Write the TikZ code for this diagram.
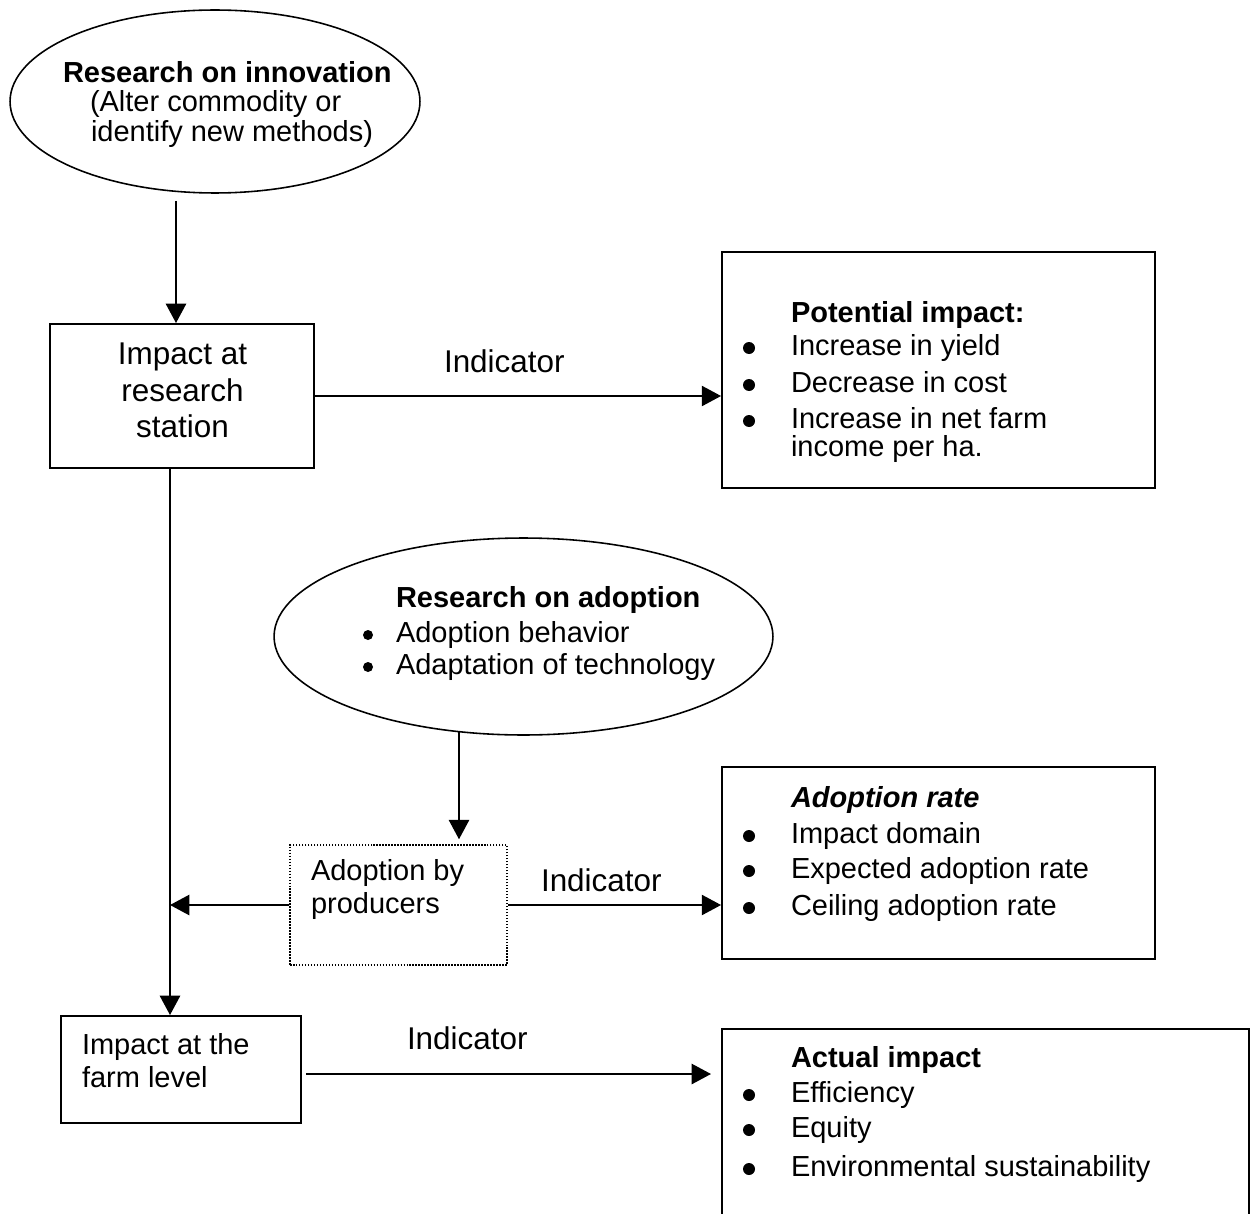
\documentclass[tikz,border=0pt]{standalone}
\usepackage{fontspec}
\setmainfont{Liberation Sans}
\usetikzlibrary{arrows.meta,shapes.geometric,calc}
\newcommand\smallfs{\fontsize{16.5pt}{19pt}\selectfont}
\newcommand\bigfs{\fontsize{17.9pt}{21pt}\selectfont}
\begin{document}
\begin{tikzpicture}[x=0.02cm,y=-0.02cm,
  lbl/.style={inner sep=0pt,outer sep=0pt,anchor=base west,font=\smallfs},
  lblbig/.style={inner sep=0pt,outer sep=0pt,anchor=base west,font=\bigfs},
  bul/.style={circle,fill=black,inner sep=0pt,outer sep=0pt,minimum size=0.24cm},
  bulsm/.style={circle,fill=black,inner sep=0pt,outer sep=0pt,minimum size=0.2cm},
  boxshape/.style={draw,rectangle,line width=1.1pt,inner sep=0pt},
  ellshape/.style={draw,ellipse,line width=0.9pt,inner sep=0pt},
  dotshape/.style={draw,rectangle,line width=0.85pt,dash pattern=on 0.85pt off 0.85pt,inner sep=0pt},
  arr/.style={-{Triangle[length=11pt,width=11.5pt]},line width=1.1pt}]
\useasboundingbox (0,0) rectangle (1250,1213);
\clip (0,0) rectangle (1250,1213);

% shapes
\node[ellshape,minimum width=8.2cm,minimum height=3.66cm] (ell1) at (215,101.5) {};
\node[boxshape,minimum width=5.28cm,minimum height=2.88cm] (box1) at (182,396) {};
\node[boxshape,minimum width=8.66cm,minimum height=4.72cm] (pot) at (938.5,370) {};
\node[ellshape,minimum width=9.98cm,minimum height=3.94cm] (ell2) at (523.5,636.5) {};
\node[dotshape,minimum width=4.34cm,minimum height=2.4cm] (dot) at (398.5,905) {};
\node[boxshape,minimum width=8.66cm,minimum height=3.84cm] (adr) at (938.5,863) {};
\node[boxshape,minimum width=4.8cm,minimum height=2.14cm] (farm) at (181,1069.5) {};
\node[boxshape,minimum width=10.54cm,minimum height=4.44cm] (act) at (985.5,1140) {};

% texts: top ellipse
\node[lbl] (t1a) at (63,83) {\bfseries Research on innovation};
\node[lbl] (t1b) at (90,112) {(Alter commodity or};
\node[lbl] (t1c) at (91,142) {identify new methods)};

% box1
\node[lblbig,anchor=base] (t2a) at (182.5,364) {Impact at};
\node[lblbig,anchor=base] (t2b) at (182.5,401) {research};
\node[lblbig,anchor=base] (t2c) at (182.5,437) {station};

% indicators
\node[lblbig] (ind1) at (444,372) {Indicator};
\node[lblbig] (ind2) at (541,891) {Indicator};
\node[lblbig] (ind3) at (407,1049) {Indicator};

% potential impact
\node[lbl] (p0) at (791,322) {\bfseries Potential impact:};
\node[bul] (pb1) at (749,348) {};
\node[lbl] (p1) at (791,355) {Increase in yield};
\node[bul] (pb2) at (749,385) {};
\node[lbl] (p2) at (791,392) {Decrease in cost};
\node[bul] (pb3) at (749,421) {};
\node[lbl] (p3) at (791,428) {Increase in net farm};
\node[lbl] (p4) at (791,456) {income per ha.};

% research on adoption
\node[lbl] (r0) at (396,607) {\bfseries Research on adoption};
\node[bulsm] (rb1) at (368,635) {};
\node[lbl] (r1) at (396,642) {Adoption behavior};
\node[bulsm] (rb2) at (368,667) {};
\node[lbl] (r2) at (396,674) {Adaptation of technology};

% adoption by producers
\node[lbl] (d1) at (311,880) {Adoption by};
\node[lbl] (d2) at (311,913) {producers};

% adoption rate
\node[lbl] (a0) at (791,807) {\bfseries\itshape Adoption rate};
\node[bul] (ab1) at (749,836) {};
\node[lbl] (a1) at (791,843) {Impact domain};
\node[bul] (ab2) at (749,871) {};
\node[lbl] (a2) at (791,878) {Expected adoption rate};
\node[bul] (ab3) at (749,908) {};
\node[lbl] (a3) at (791,915) {Ceiling adoption rate};

% farm
\node[lbl] (f1t) at (82,1054) {Impact at the};
\node[lbl] (f2t) at (82,1087) {farm level};

% actual impact
\node[lbl] (c0) at (791,1067) {\bfseries Actual impact};
\node[bul] (cb1) at (749,1095) {};
\node[lbl] (c1) at (791,1102) {Efficiency};
\node[bul] (cb2) at (749,1130) {};
\node[lbl] (c2) at (791,1137) {Equity};
\node[bul] (cb3) at (749,1169) {};
\node[lbl] (c3) at (791,1176) {Environmental sustainability};

% connectors
\coordinate (a1s) at (176,201);
\draw[arr] (a1s) -- (a1s |- box1.north);
\draw[arr] (box1.east) -- (box1.east -| pot.west);
\coordinate (v1) at ($(box1.south)+(-12,0)$);
\draw[arr] (v1) -- (v1 |- farm.north);
\draw[arr] (dot.west) -- (dot.west -| v1);
\coordinate (a2s) at (459,732);
\draw[arr] (a2s) -- ($(a2s |- dot.north)+(0,-5)$);
\draw[arr] (dot.east) -- (dot.east -| adr.west);
\coordinate (fs) at (306,1074);
\coordinate (fe) at (711,1074);
\draw[arr] (fs) -- (fe);
\end{tikzpicture}
\end{document}
